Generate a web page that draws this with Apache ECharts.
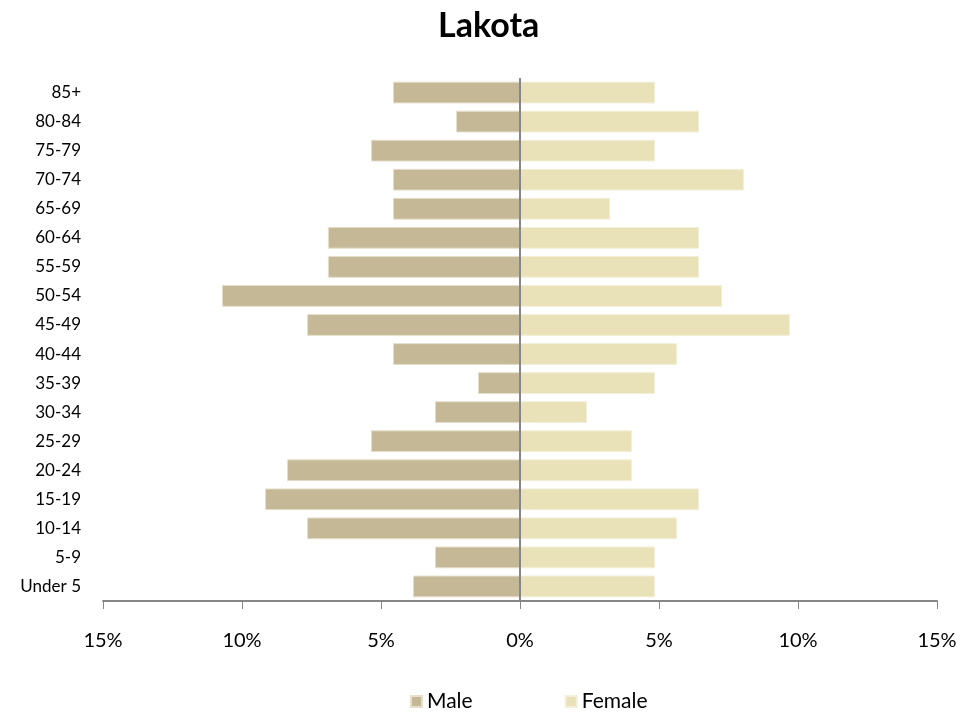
<!DOCTYPE html>
<html>
<head>
<meta charset="utf-8">
<script src="https://cdn.jsdelivr.net/npm/echarts@6/dist/echarts.min.js"></script>
<style>
	html, body { margin: 0; padding: 0; background: #fff; }
	#chart { width: 979px; height: 713px; }
</style>
</head>
<body>
<div id="chart"></div>
<script>
	// age groups, bottom to top
	var ageGroups = ['Under 5', '5-9', '10-14', '15-19', '20-24', '25-29', '30-34', '35-39', '40-44',
		'45-49', '50-54', '55-59', '60-64', '65-69', '70-74', '75-79', '80-84', '85+'];
	// percent of population
	var male = [3.85, 3.06, 7.66, 9.17, 8.38, 5.36, 3.06, 1.51, 4.57,
		7.66, 10.72, 6.91, 6.91, 4.57, 4.57, 5.36, 2.30, 4.57];
	var female = [4.86, 4.86, 5.65, 6.44, 4.03, 4.03, 2.41, 4.86, 5.65,
		9.71, 7.27, 6.44, 6.44, 3.24, 8.06, 4.86, 6.44, 4.86];
	var xTicks = [-15, -10, -5, 0, 5, 10, 15];

	var font = 'Lato, "Open Sans", sans-serif';
	var chart = echarts.init(document.getElementById('chart'));

	var option = {
		animation: false,
		title: {
			text: 'Lakota',
			left: 433,
			top: 4,
			textStyle: { fontFamily: font, fontSize: 34, fontWeight: 'bold', color: '#000' }
		},
		legend: {
			data: ['Male', 'Female'],
			left: 405,
			top: 686,
			itemWidth: 11,
			itemHeight: 11,
			itemGap: 92,
			icon: 'rect',
			textStyle: { fontFamily: font, fontSize: 21, color: '#000' }
		},
		grid: {
			left: 103,
			right: 42,
			top: 78,
			bottom: 112
		},
		xAxis: {
			type: 'value',
			min: -15,
			max: 15,
			interval: 5,
			splitLine: { show: false },
			axisLine: { show: true, lineStyle: { color: '#868686', width: 2 } },
			axisTick: { show: true, length: 8, lineStyle: { color: '#868686', width: 1 } },
			axisLabel: {
				margin: 30,
				fontFamily: font,
				fontSize: 20,
				color: '#000',
				formatter: function(v) {
					return Math.abs(v) + '%';
				}
			}
		},
		yAxis: {
			type: 'category',
			data: ageGroups,
			axisLine: { show: false },
			axisTick: { show: false },
			axisLabel: {
				margin: 22,
				fontFamily: font,
				fontSize: 17,
				color: '#000'
			}
		},
		series: [{
			name: 'Male',
			type: 'bar',
			stack: 'pop',
			barCategoryGap: '25%',
			itemStyle: { color: '#C4B896', borderColor: '#E6DFCB', borderWidth: 1 },
			data: male.map(function(v) { return -v; }),
			markLine: {
				silent: true,
				symbol: 'none',
				label: { show: false },
				lineStyle: { color: '#868686', width: 2, type: 'solid' },
				data: [{ xAxis: 0 }]
			}
		}, {
			name: 'Female',
			type: 'bar',
			stack: 'pop',
			barCategoryGap: '25%',
			itemStyle: { color: '#E9E2B8', borderColor: '#F3EFD8', borderWidth: 1 },
			data: female
		}]
	};

	chart.setOption(option);
</script>
</body>
</html>
